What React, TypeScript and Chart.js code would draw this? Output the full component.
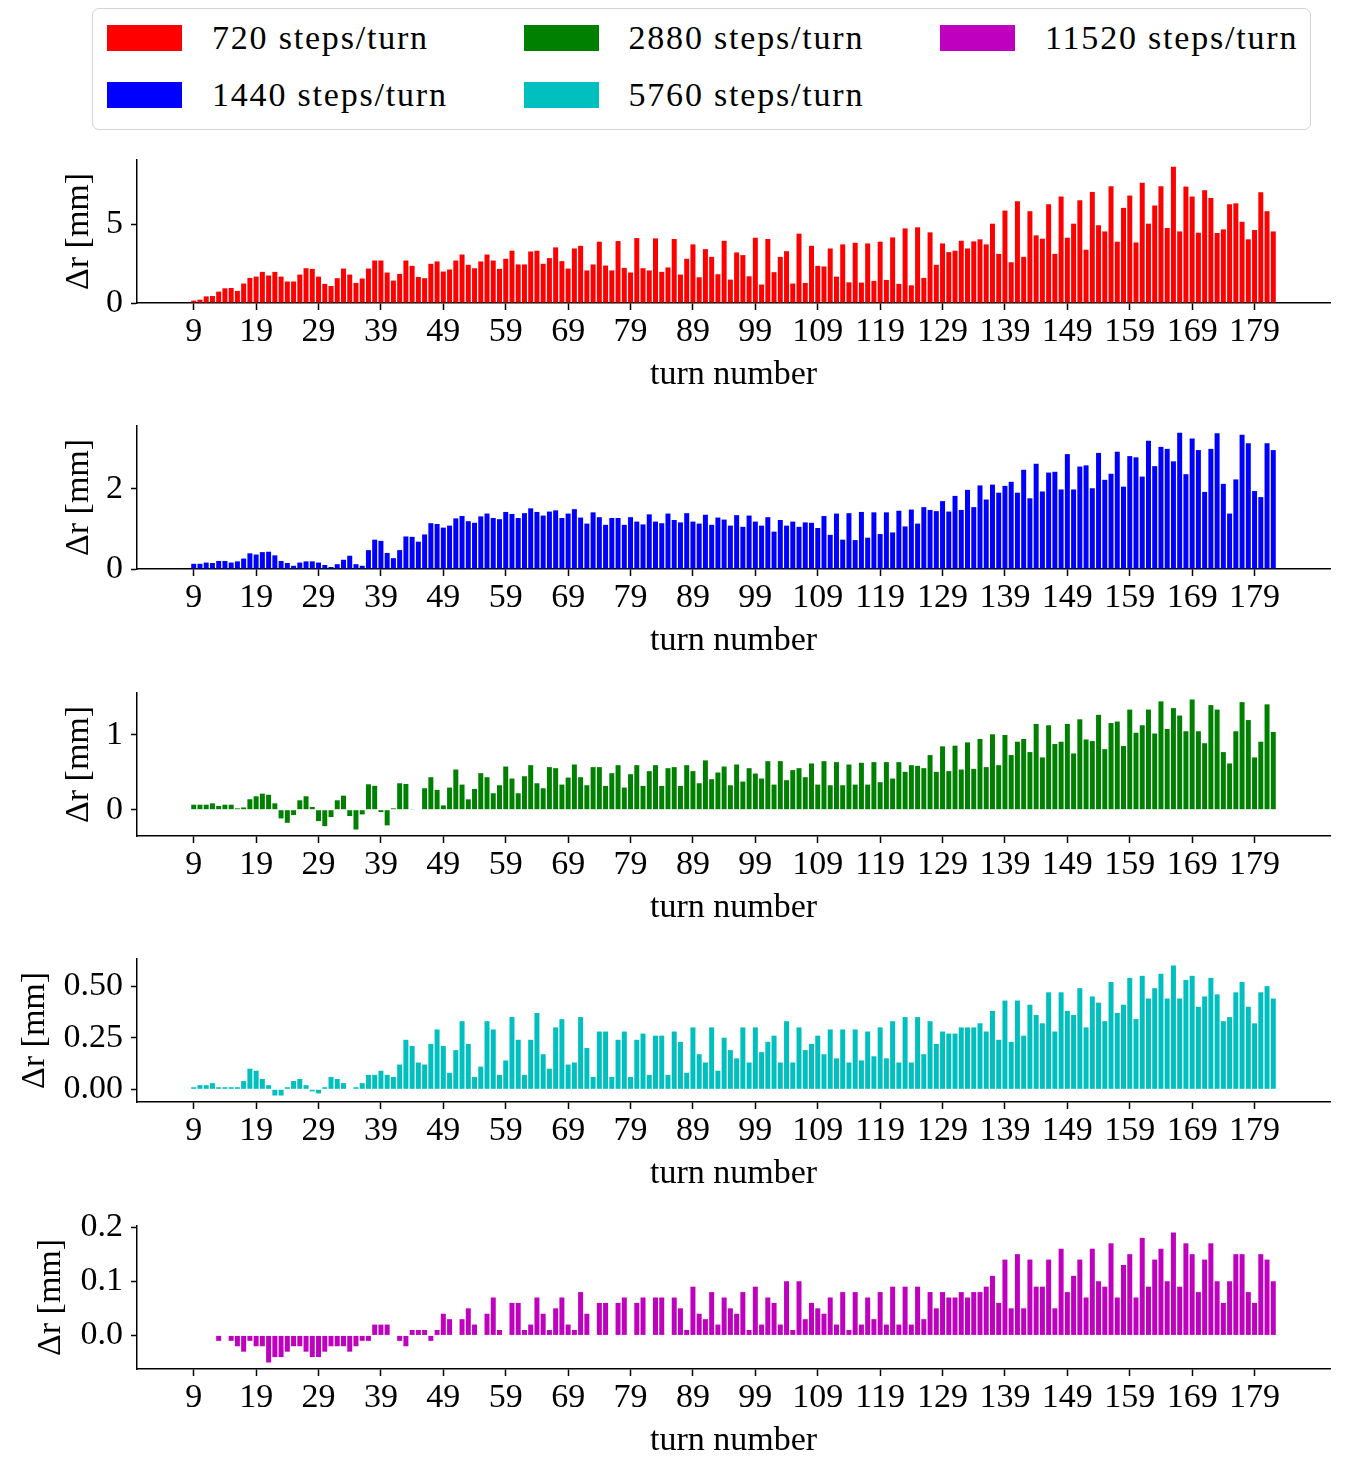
import { useEffect, useRef } from "react";
import { Chart, registerables } from "chart.js";

Chart.register(...registerables);

// Turn numbers on the x axis (one bar per turn)
const turns = [
  9, 10, 11, 12, 13, 14, 15, 16, 17, 18,
  19, 20, 21, 22, 23, 24, 25, 26, 27, 28,
  29, 30, 31, 32, 33, 34, 35, 36, 37, 38,
  39, 40, 41, 42, 43, 44, 45, 46, 47, 48,
  49, 50, 51, 52, 53, 54, 55, 56, 57, 58,
  59, 60, 61, 62, 63, 64, 65, 66, 67, 68,
  69, 70, 71, 72, 73, 74, 75, 76, 77, 78,
  79, 80, 81, 82, 83, 84, 85, 86, 87, 88,
  89, 90, 91, 92, 93, 94, 95, 96, 97, 98,
  99, 100, 101, 102, 103, 104, 105, 106, 107, 108,
  109, 110, 111, 112, 113, 114, 115, 116, 117, 118,
  119, 120, 121, 122, 123, 124, 125, 126, 127, 128,
  129, 130, 131, 132, 133, 134, 135, 136, 137, 138,
  139, 140, 141, 142, 143, 144, 145, 146, 147, 148,
  149, 150, 151, 152, 153, 154, 155, 156, 157, 158,
  159, 160, 161, 162, 163, 164, 165, 166, 167, 168,
  169, 170, 171, 172, 173, 174, 175, 176, 177, 178,
  179, 180, 181, 182,
];

const xTickValues = [9, 19, 29, 39, 49, 59, 69, 79, 89, 99, 109, 119, 129, 139, 149, 159, 169, 179];

// Δr [mm] per turn, 720 steps/turn
const dr720 = [
  0.15, 0.21, 0.42, 0.44, 0.72, 0.93, 0.95, 0.76, 1.23, 1.59,
  1.67, 1.97, 1.74, 1.97, 1.67, 1.36, 1.36, 1.80, 2.20, 2.16,
  1.67, 1.21, 1.08, 1.57, 2.18, 1.80, 1.27, 1.55, 2.18, 2.69,
  2.69, 1.93, 1.42, 1.84, 2.69, 2.35, 1.65, 1.57, 2.48, 2.63,
  1.99, 2.12, 2.69, 3.07, 2.42, 2.20, 2.63, 3.07, 2.69, 2.16,
  2.80, 3.31, 2.44, 2.44, 3.26, 3.31, 2.48, 2.84, 3.52, 2.65,
  2.18, 3.45, 3.62, 2.06, 2.44, 3.88, 2.37, 2.06, 3.92, 2.22,
  1.93, 4.11, 2.20, 2.06, 4.09, 1.97, 2.25, 4.05, 1.80, 2.80,
  3.71, 1.63, 3.41, 2.92, 1.82, 3.94, 1.48, 3.20, 3.03, 1.69,
  4.13, 1.17, 4.05, 1.95, 2.92, 3.28, 1.23, 4.39, 1.27, 3.62,
  2.35, 2.31, 3.45, 1.67, 3.71, 1.31, 3.81, 1.29, 3.77, 1.40,
  3.88, 1.46, 4.15, 1.21, 4.72, 1.12, 4.79, 1.59, 4.47, 2.42,
  3.77, 3.22, 3.31, 3.94, 3.45, 3.90, 4.03, 3.71, 5.02, 3.11,
  5.85, 2.58, 6.44, 2.92, 5.81, 4.28, 4.07, 6.25, 3.11, 6.74,
  4.13, 5.02, 6.50, 3.37, 7.03, 4.92, 4.53, 7.39, 3.88, 6.02,
  6.80, 3.83, 7.61, 5.02, 6.17, 7.39, 4.75, 8.62, 4.53, 7.37,
  6.74, 4.45, 7.14, 6.65, 4.43, 4.66, 6.25, 6.31, 5.14, 4.03,
  4.62, 7.01, 5.81, 4.53,
];

// Δr [mm] per turn, 1440 steps/turn
const dr1440 = [
  0.13, 0.13, 0.16, 0.15, 0.20, 0.20, 0.16, 0.19, 0.26, 0.39,
  0.36, 0.42, 0.43, 0.34, 0.20, 0.15, 0.08, 0.16, 0.19, 0.19,
  0.16, 0.10, 0.05, 0.12, 0.23, 0.33, 0.12, 0.08, 0.47, 0.73,
  0.70, 0.40, 0.27, 0.47, 0.81, 0.80, 0.68, 0.86, 1.14, 1.12,
  1.03, 1.08, 1.26, 1.32, 1.19, 1.15, 1.31, 1.38, 1.27, 1.24,
  1.42, 1.37, 1.27, 1.39, 1.51, 1.42, 1.33, 1.43, 1.46, 1.27,
  1.38, 1.49, 1.28, 1.13, 1.41, 1.29, 1.10, 1.27, 1.27, 1.10,
  1.29, 1.18, 1.11, 1.36, 1.18, 1.14, 1.38, 1.22, 1.16, 1.39,
  1.18, 1.13, 1.35, 1.10, 1.28, 1.23, 1.08, 1.34, 1.05, 1.33,
  1.18, 1.08, 1.29, 0.93, 1.22, 1.08, 1.18, 1.05, 1.16, 1.15,
  1.02, 1.32, 0.85, 1.38, 0.73, 1.39, 0.72, 1.42, 0.78, 1.41,
  0.87, 1.41, 0.91, 1.45, 1.06, 1.48, 1.13, 1.54, 1.47, 1.44,
  1.69, 1.43, 1.82, 1.47, 1.97, 1.54, 2.08, 1.73, 2.10, 1.90,
  2.07, 2.17, 1.90, 2.47, 1.76, 2.62, 1.93, 2.40, 2.42, 1.98,
  2.86, 1.98, 2.55, 2.58, 2.01, 2.89, 2.22, 2.37, 2.92, 2.05,
  2.81, 2.78, 2.30, 3.19, 2.56, 3.04, 2.99, 2.68, 3.39, 2.36,
  3.25, 2.96, 1.92, 2.99, 3.38, 2.12, 1.38, 2.23, 3.34, 3.13,
  1.94, 1.79, 3.13, 2.96,
];

// Δr [mm] per turn, 2880 steps/turn
const dr2880 = [
  0.067, 0.067, 0.067, 0.085, 0.05, 0.067, 0.067, 0.018, 0.03, 0.14,
  0.18, 0.215, 0.20, 0.085, -0.117, -0.175, -0.072, 0.126, 0.18, 0.036,
  -0.152, -0.22, -0.099, 0.126, 0.188, -0.085, -0.265, -0.063, 0.34, 0.32,
  -0.031, -0.21, 0.018, 0.354, 0.345, 0.009, 0, 0.287, 0.435, 0.265,
  0.058, 0.296, 0.538, 0.336, 0.139, 0.278, 0.489, 0.435, 0.22, 0.327,
  0.578, 0.417, 0.22, 0.448, 0.596, 0.354, 0.287, 0.57, 0.556, 0.336,
  0.43, 0.605, 0.435, 0.327, 0.57, 0.57, 0.318, 0.489, 0.596, 0.296,
  0.475, 0.596, 0.318, 0.516, 0.596, 0.318, 0.556, 0.57, 0.318, 0.596,
  0.516, 0.354, 0.66, 0.408, 0.498, 0.578, 0.327, 0.605, 0.377, 0.556,
  0.484, 0.417, 0.65, 0.336, 0.65, 0.395, 0.53, 0.556, 0.435, 0.619,
  0.336, 0.65, 0.327, 0.637, 0.327, 0.605, 0.336, 0.628, 0.336, 0.637,
  0.368, 0.637, 0.417, 0.637, 0.507, 0.596, 0.587, 0.556, 0.731, 0.507,
  0.848, 0.516, 0.857, 0.538, 0.901, 0.547, 0.946, 0.57, 1.009, 0.596,
  1.0, 0.731, 0.91, 0.946, 0.771, 1.148, 0.70, 1.13, 0.879, 0.91,
  1.148, 0.753, 1.21, 0.94, 0.919, 1.27, 0.81, 1.16, 1.18, 0.852,
  1.34, 1.03, 1.13, 1.34, 1.02, 1.45, 1.08, 1.36, 1.26, 1.05,
  1.475, 1.05, 0.89, 1.40, 1.34, 0.771, 0.619, 1.05, 1.44, 1.20,
  0.70, 0.91, 1.41, 1.04,
];

// Δr [mm] per turn, 5760 steps/turn
const dr5760 = [
  0.01, 0.02, 0.02, 0.03, 0.01, 0.01, 0.01, 0.01, 0.04, 0.10,
  0.09, 0.05, 0.02, -0.03, -0.03, 0.01, 0.04, 0.05, 0.02, -0.01,
  -0.02, 0.01, 0.06, 0.05, 0.03, 0, 0.01, 0.03, 0.07, 0.07,
  0.09, 0.07, 0.06, 0.12, 0.24, 0.21, 0.13, 0.12, 0.22, 0.29,
  0.21, 0.08, 0.19, 0.33, 0.22, 0.06, 0.11, 0.33, 0.29, 0.07,
  0.14, 0.35, 0.24, 0.07, 0.24, 0.37, 0.17, 0.10, 0.30, 0.34,
  0.12, 0.13, 0.35, 0.20, 0.06, 0.28, 0.28, 0.06, 0.24, 0.28,
  0.06, 0.24, 0.27, 0.07, 0.26, 0.26, 0.07, 0.28, 0.23, 0.08,
  0.30, 0.17, 0.13, 0.30, 0.09, 0.25, 0.19, 0.15, 0.30, 0.13,
  0.30, 0.18, 0.23, 0.26, 0.13, 0.33, 0.13, 0.30, 0.19, 0.22,
  0.26, 0.17, 0.29, 0.15, 0.29, 0.13, 0.29, 0.14, 0.28, 0.16,
  0.30, 0.15, 0.33, 0.13, 0.35, 0.13, 0.35, 0.17, 0.33, 0.22,
  0.28, 0.27, 0.27, 0.30, 0.30, 0.30, 0.32, 0.28, 0.38, 0.24,
  0.43, 0.23, 0.43, 0.26, 0.41, 0.36, 0.32, 0.47, 0.28, 0.47,
  0.38, 0.36, 0.49, 0.30, 0.45, 0.42, 0.33, 0.52, 0.37, 0.41,
  0.54, 0.34, 0.55, 0.44, 0.49, 0.56, 0.44, 0.60, 0.44, 0.53,
  0.55, 0.40, 0.45, 0.54, 0.46, 0.33, 0.35, 0.47, 0.52, 0.40,
  0.32, 0.47, 0.50, 0.44,
];

// Δr [mm] per turn, 11520 steps/turn
const dr11520 = [
  0, 0, 0, 0, -0.01, 0, -0.01, -0.02, -0.03, -0.01,
  -0.02, -0.02, -0.05, -0.04, -0.04, -0.03, -0.02, -0.02, -0.03, -0.04,
  -0.04, -0.03, -0.02, -0.02, -0.02, -0.03, -0.02, -0.01, -0.01, 0.02,
  0.02, 0.02, 0, -0.01, -0.02, 0.01, 0.01, 0.01, -0.01, 0.01,
  0.04, 0.03, 0, 0.03, 0.05, 0.02, 0, 0.04, 0.07, 0.01,
  0, 0.06, 0.06, 0.01, 0.02, 0.07, 0.04, 0.01, 0.05, 0.07,
  0.02, 0.01, 0.08, 0.04, 0, 0.06, 0.06, 0, 0.06, 0.07,
  0, 0.06, 0.07, 0, 0.07, 0.07, 0, 0.07, 0.05, 0.01,
  0.09, 0.04, 0.03, 0.08, 0.02, 0.07, 0.05, 0.04, 0.08, 0.01,
  0.09, 0.02, 0.07, 0.06, 0.02, 0.10, 0.01, 0.10, 0.03, 0.06,
  0.05, 0.04, 0.07, 0.02, 0.08, 0.01, 0.08, 0.02, 0.07, 0.03,
  0.08, 0.02, 0.09, 0.02, 0.09, 0.02, 0.09, 0.03, 0.08, 0.05,
  0.08, 0.07, 0.07, 0.08, 0.07, 0.08, 0.08, 0.09, 0.11, 0.06,
  0.14, 0.05, 0.15, 0.05, 0.14, 0.09, 0.09, 0.14, 0.05, 0.16,
  0.08, 0.11, 0.14, 0.07, 0.16, 0.10, 0.09, 0.17, 0.07, 0.13,
  0.15, 0.07, 0.18, 0.09, 0.14, 0.16, 0.10, 0.19, 0.09, 0.17,
  0.15, 0.08, 0.14, 0.17, 0.10, 0.06, 0.10, 0.15, 0.15, 0.08,
  0.06, 0.15, 0.14, 0.10,
];

// y-axis ticks for each panel
const yTicks720 = [0, 5];
const yTickLabels720 = ["0", "5"];
const yTicks1440 = [0, 2];
const yTickLabels1440 = ["0", "2"];
const yTicks2880 = [0, 1];
const yTickLabels2880 = ["0", "1"];
const yTicks5760 = [0, 0.25, 0.5];
const yTickLabels5760 = ["0.00", "0.25", "0.50"];
const yTicks11520 = [0, 0.1, 0.2];
const yTickLabels11520 = ["0.0", "0.1", "0.2"];

const seriesNames = ["720 steps/turn", "1440 steps/turn", "2880 steps/turn", "5760 steps/turn", "11520 steps/turn"];
const seriesColors = ["#ff0000", "#0000ff", "#008000", "#00bfbf", "#bf00bf"];

const X_TITLE = "turn number";
const Y_TITLE = "Δr [mm]";

// layout (page pixels)
const PAGE_W = 1353;
const PAGE_H = 1474;
const PLOT_LEFT = 137;
const PLOT_RIGHT = 1330;
const PLOT_H = 143;
const PAD_TOP = 30;
const X_AXIS_H = 100;
const CANVAS_H = PAD_TOP + PLOT_H + X_AXIS_H;
const FONT_FAMILY = "'Liberation Serif', 'DejaVu Serif', serif";
const FONT_SIZE = 34;

type PanelSpec = {
  name: string;
  color: string;
  values: number[];
  yTicks: number[];
  yTickLabels: string[];
  plotBottom: number;
  yTitleX: number;
};

const panels: PanelSpec[] = [
  { name: seriesNames[0], color: seriesColors[0], values: dr720, yTicks: yTicks720, yTickLabels: yTickLabels720, plotBottom: 303, yTitleX: 79 },
  { name: seriesNames[1], color: seriesColors[1], values: dr1440, yTicks: yTicks1440, yTickLabels: yTickLabels1440, plotBottom: 569, yTitleX: 79 },
  { name: seriesNames[2], color: seriesColors[2], values: dr2880, yTicks: yTicks2880, yTickLabels: yTickLabels2880, plotBottom: 836, yTitleX: 79 },
  { name: seriesNames[3], color: seriesColors[3], values: dr5760, yTicks: yTicks5760, yTickLabels: yTickLabels5760, plotBottom: 1102, yTitleX: 35 },
  { name: seriesNames[4], color: seriesColors[4], values: dr11520, yTicks: yTicks11520, yTickLabels: yTickLabels11520, plotBottom: 1369, yTitleX: 51 },
];

function makeChart(canvas: HTMLCanvasElement, spec: PanelSpec) {
  const font = { family: FONT_FAMILY, size: FONT_SIZE, lineHeight: 1.2 };
  const lineH = FONT_SIZE * 1.2;

  // autoscale like a bar plot: 5% margins, zero kept as the floor for all-positive data
  const lo = Math.min(0, ...spec.values);
  const hi = Math.max(0, ...spec.values);
  const span = hi - lo;
  const yMin = lo < 0 ? lo - 0.05 * span : 0;
  const yMax = hi + 0.05 * span;
  const xLo = turns[0] - 0.4;
  const xHi = turns[turns.length - 1] + 0.4;
  const xPad = 0.05 * (xHi - xLo);

  return new Chart(canvas, {
    type: "bar",
    data: {
      datasets: [
        {
          label: spec.name,
          data: turns.map((t, i) => ({ x: t, y: spec.values[i] })),
          backgroundColor: spec.color,
          borderWidth: 0,
          barPercentage: 0.8,
          categoryPercentage: 1,
        },
      ],
    },
    options: {
      animation: false,
      responsive: false,
      maintainAspectRatio: false,
      events: [],
      layout: { padding: { top: PAD_TOP, right: PAGE_W - PLOT_RIGHT, left: 0, bottom: 0 } },
      plugins: { legend: { display: false }, tooltip: { enabled: false } },
      scales: {
        x: {
          type: "linear",
          offset: false,
          min: xLo - xPad,
          max: xHi + xPad,
          afterBuildTicks: (axis: any) => {
            axis.ticks = xTickValues.map((v) => ({ value: v }));
          },
          afterFit: (axis: any) => {
            axis.height = X_AXIS_H;
          },
          ticks: {
            autoSkip: false,
            maxRotation: 0,
            padding: 2,
            color: "#000",
            font,
            callback: (_v: any, i: number) => String(xTickValues[i]),
          },
          grid: {
            display: true,
            offset: false,
            drawOnChartArea: false,
            drawTicks: true,
            tickLength: 7,
            tickWidth: 1.5,
            tickColor: "#000",
            color: "#000",
          },
          border: { display: true, color: "#000", width: 1.5 },
          title: { display: true, text: X_TITLE, color: "#000", font, padding: { top: 0, bottom: 28 - lineH / 2 } },
        },
        y: {
          min: yMin,
          max: yMax,
          afterBuildTicks: (axis: any) => {
            axis.ticks = spec.yTicks.map((v) => ({ value: v }));
          },
          afterFit: (axis: any) => {
            axis.width = PLOT_LEFT;
          },
          ticks: {
            padding: 8,
            color: "#000",
            font,
            callback: (_v: any, i: number) => spec.yTickLabels[i],
          },
          grid: {
            display: true,
            offset: false,
            drawOnChartArea: false,
            drawTicks: true,
            tickLength: 6,
            tickWidth: 1.5,
            tickColor: "#000",
            color: "#000",
          },
          border: { display: true, color: "#000", width: 1.5 },
          title: { display: true, text: Y_TITLE, color: "#000", font, padding: { top: spec.yTitleX - lineH / 2, bottom: 0 } },
        },
      },
    },
  } as any);
}

function Panel({ spec }: { spec: PanelSpec }) {
  const ref = useRef<HTMLCanvasElement>(null);
  useEffect(() => {
    if (!ref.current) return;
    const chart = makeChart(ref.current, spec);
    return () => chart.destroy();
  }, [spec]);
  return (
    <canvas
      ref={ref}
      width={PAGE_W}
      height={CANVAS_H}
      style={{
        position: "absolute",
        left: 0,
        top: spec.plotBottom - PLOT_H - PAD_TOP,
        width: PAGE_W,
        height: CANVAS_H,
        display: "block",
      }}
    />
  );
}

// legend: three columns, filled column by column
const legendColumns = [
  [0, 1],
  [2, 3],
  [4],
];

function Legend() {
  return (
    <div
      style={{
        position: "absolute",
        left: 92,
        top: 8,
        width: 1219,
        height: 122,
        boxSizing: "border-box",
        border: "1.5px solid #d3d3d3",
        borderRadius: 7,
        background: "#fff",
        fontFamily: FONT_FAMILY,
        fontSize: FONT_SIZE,
        color: "#000",
      }}
    >
      {legendColumns.map((col, ci) =>
        col.map((si, ri) => (
          <div key={si}>
            <div
              style={{
                position: "absolute",
                left: 14 + ci * 416.5,
                top: 16 + ri * 57,
                width: 75,
                height: 26,
                background: seriesColors[si],
              }}
            />
            <div
              style={{
                position: "absolute",
                left: 119 + ci * 416.5,
                top: 9 + ri * 57,
                height: 40,
                lineHeight: "40px",
                whiteSpace: "nowrap",
                letterSpacing: 1.8,
              }}
            >
              {seriesNames[si]}
            </div>
          </div>
        ))
      )}
    </div>
  );
}

export default function App() {
  return (
    <div style={{ position: "absolute", left: 0, top: 0, width: PAGE_W, height: PAGE_H, background: "#fff", overflow: "hidden" }}>
      <Legend />
      {panels.map((p) => (
        <Panel key={p.name} spec={p} />
      ))}
    </div>
  );
}
